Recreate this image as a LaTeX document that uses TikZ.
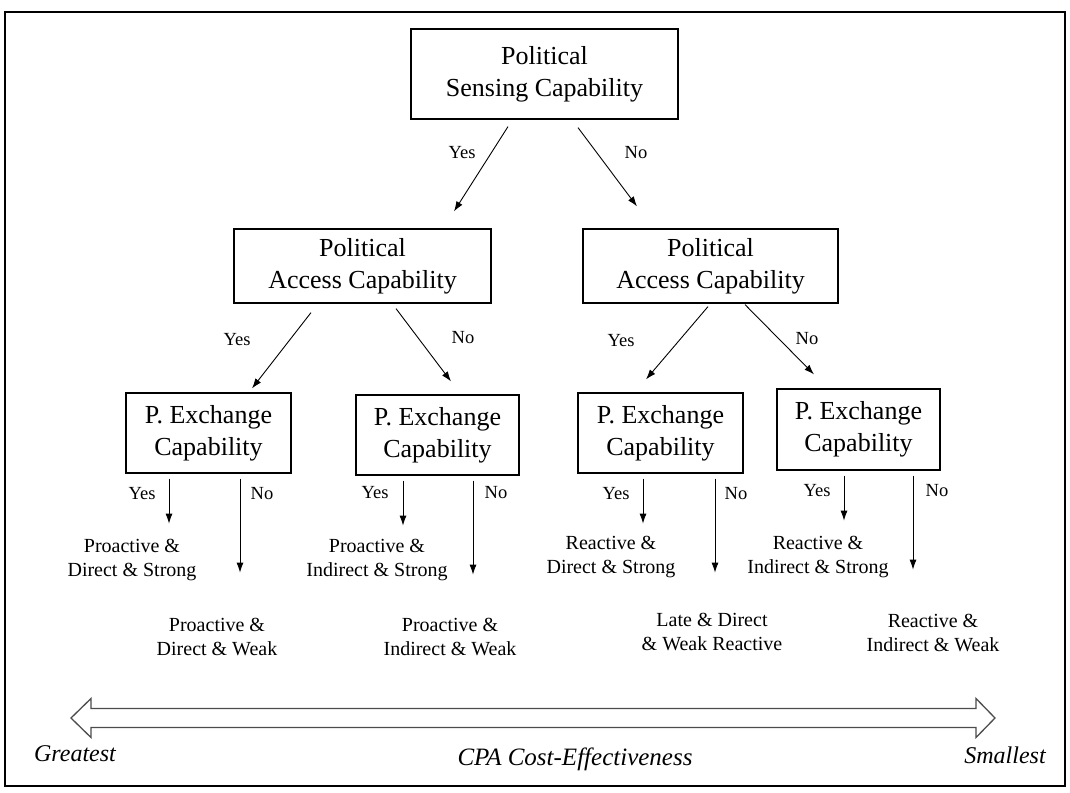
\documentclass[tikz,border=0pt]{standalone}
\usepackage{fontspec}
\setmainfont{Liberation Serif}
\usetikzlibrary{arrows.meta}

\newcommand{\boxtxt}{\fontsize{26}{32}\selectfont}
\newcommand{\outtxt}{\fontsize{20}{24}\selectfont}
\newcommand{\yntxt}{\fontsize{18.5}{22}\selectfont}
\newcommand{\scaletxt}{\fontsize{24}{28}\selectfont\itshape}

\begin{document}
\begin{tikzpicture}[x=1pt,y=-1pt]
  \tikzset{capbox/.style = {shape=rectangle,draw,line width=1.2pt,inner sep=0pt,align=center,font=\boxtxt}}
  \tikzset{outcome/.style = {align=center,font=\outtxt,inner sep=0pt}}
  \tikzset{yesno/.style = {font=\yntxt,inner sep=0pt}}
  \tikzset{arr/.style = {-{Latex[length=10pt,width=7pt]},line width=0.9pt}}

  \useasboundingbox (0,0) rectangle (1070,792);
  \draw[line width=2pt] (5,12) rectangle (1065,786);

	\node[capbox,minimum width=267pt,minimum height=90pt] (sense) at (544.5,74) {Political\\Sensing Capability};
	\node[capbox,minimum width=257pt,minimum height=74pt] (accL) at (362.5,266) {Political\\Access Capability};
	\node[capbox,minimum width=255pt,minimum height=74pt] (accR) at (710.5,266) {Political\\Access Capability};
	\node[capbox,minimum width=165pt,minimum height=80pt] (exA) at (208.5,433) {P. Exchange\\Capability};
	\node[capbox,minimum width=163pt,minimum height=80pt] (exB) at (437.5,435) {P. Exchange\\Capability};
	\node[capbox,minimum width=165pt,minimum height=80pt] (exC) at (660.5,433) {P. Exchange\\Capability};
	\node[capbox,minimum width=163pt,minimum height=81pt] (exD) at (858.5,429.5) {P. Exchange\\Capability};

	\draw[arr] ([xshift=-36.5pt,yshift=-7pt]sense.south) -- ([xshift=91.5pt,yshift=17pt]accL.north);
	\draw[arr] ([xshift=33.5pt,yshift=-8pt]sense.south) -- ([xshift=-73.5pt,yshift=22pt]accR.north);
	\draw[arr] ([xshift=-51.5pt,yshift=-9pt]accL.south) -- ([xshift=43.5pt,yshift=4pt]exA.north);
	\draw[arr] ([xshift=33.5pt,yshift=-5pt]accL.south) -- ([xshift=13.5pt,yshift=13pt]exB.north);
	\draw[arr] ([xshift=-2.5pt,yshift=-3pt]accR.south) -- ([xshift=-14.5pt,yshift=13pt]exC.north);
	\draw[arr] ([xshift=34.5pt,yshift=-1pt]accR.south) -- ([xshift=-44.5pt,yshift=14pt]exD.north);

       \foreach \b/\ya/\na in {exA/-39.5/31.5, exB/-34.5/35.5, exC/-17.5/54.5, exD/-14.5/54.5}
    {
	\draw[arr] ([xshift=\ya pt,yshift=-5pt]\b.south) -- ([xshift=\ya pt,yshift=-50pt]\b.south);
	\draw[arr] ([xshift=\na pt,yshift=-5pt]\b.south) -- ([xshift=\na pt,yshift=-99pt]\b.south);
    }

	\node[yesno] (ys) at (462,153) {Yes};
	\node[yesno] (ns) at (636,153) {No};
	\node[yesno] (yl) at (237,340) {Yes};
	\node[yesno] (nl) at (463,338) {No};
	\node[yesno] (yr) at (621,341) {Yes};
	\node[yesno] (nr) at (807,339) {No};
	\node[yesno] (yA) at (142,494) {Yes};
	\node[yesno] (nA) at (262,494) {No};
	\node[yesno] (yB) at (375,493) {Yes};
	\node[yesno] (nB) at (496,493) {No};
	\node[yesno] (yC) at (616,494) {Yes};
	\node[yesno] (nC) at (736,494) {No};
	\node[yesno] (yD) at (817,491) {Yes};
	\node[yesno] (nD) at (937,491) {No};

	\node[outcome] (oA1) at (132,560) {Proactive \&\\Direct \& Strong};
	\node[outcome] (oA2) at (217,637) {Proactive \&\\Direct \& Weak};
	\node[outcome] (oB1) at (377,560) {Proactive \&\\Indirect \& Strong};
	\node[outcome] (oB2) at (450,637) {Proactive \&\\Indirect \& Weak};
	\node[outcome] (oC1) at (611,557) {Reactive \&\\Direct \& Strong};
	\node[outcome] (oC2) at (712,632) {Late \& Direct\\\& Weak Reactive};
	\node[outcome] (oD1) at (818,557) {Reactive \&\\Indirect \& Strong};
	\node[outcome] (oD2) at (933,633) {Reactive \&\\Indirect \& Weak};

  % cost-effectiveness scale
  \draw[line width=1.3pt,black!70,line join=miter] (71,718) -- (91,698.5) -- (91,708.5) -- (976,708.5) -- (976,698.5) -- (995,718)
    -- (976,737.5) -- (976,727.5) -- (91,727.5) -- (91,737.5) -- cycle;
	\node[font=\scaletxt,inner sep=0pt] (great) at (75,754) {Greatest};
	\node[font=\scaletxt,inner sep=0pt] (small) at (1005,755) {Smallest};
	\node[font=\scaletxt\fontsize{25}{29}\selectfont,inner sep=0pt] (cpa) at (575,759) {CPA Cost-Effectiveness};
\end{tikzpicture}
\end{document}
